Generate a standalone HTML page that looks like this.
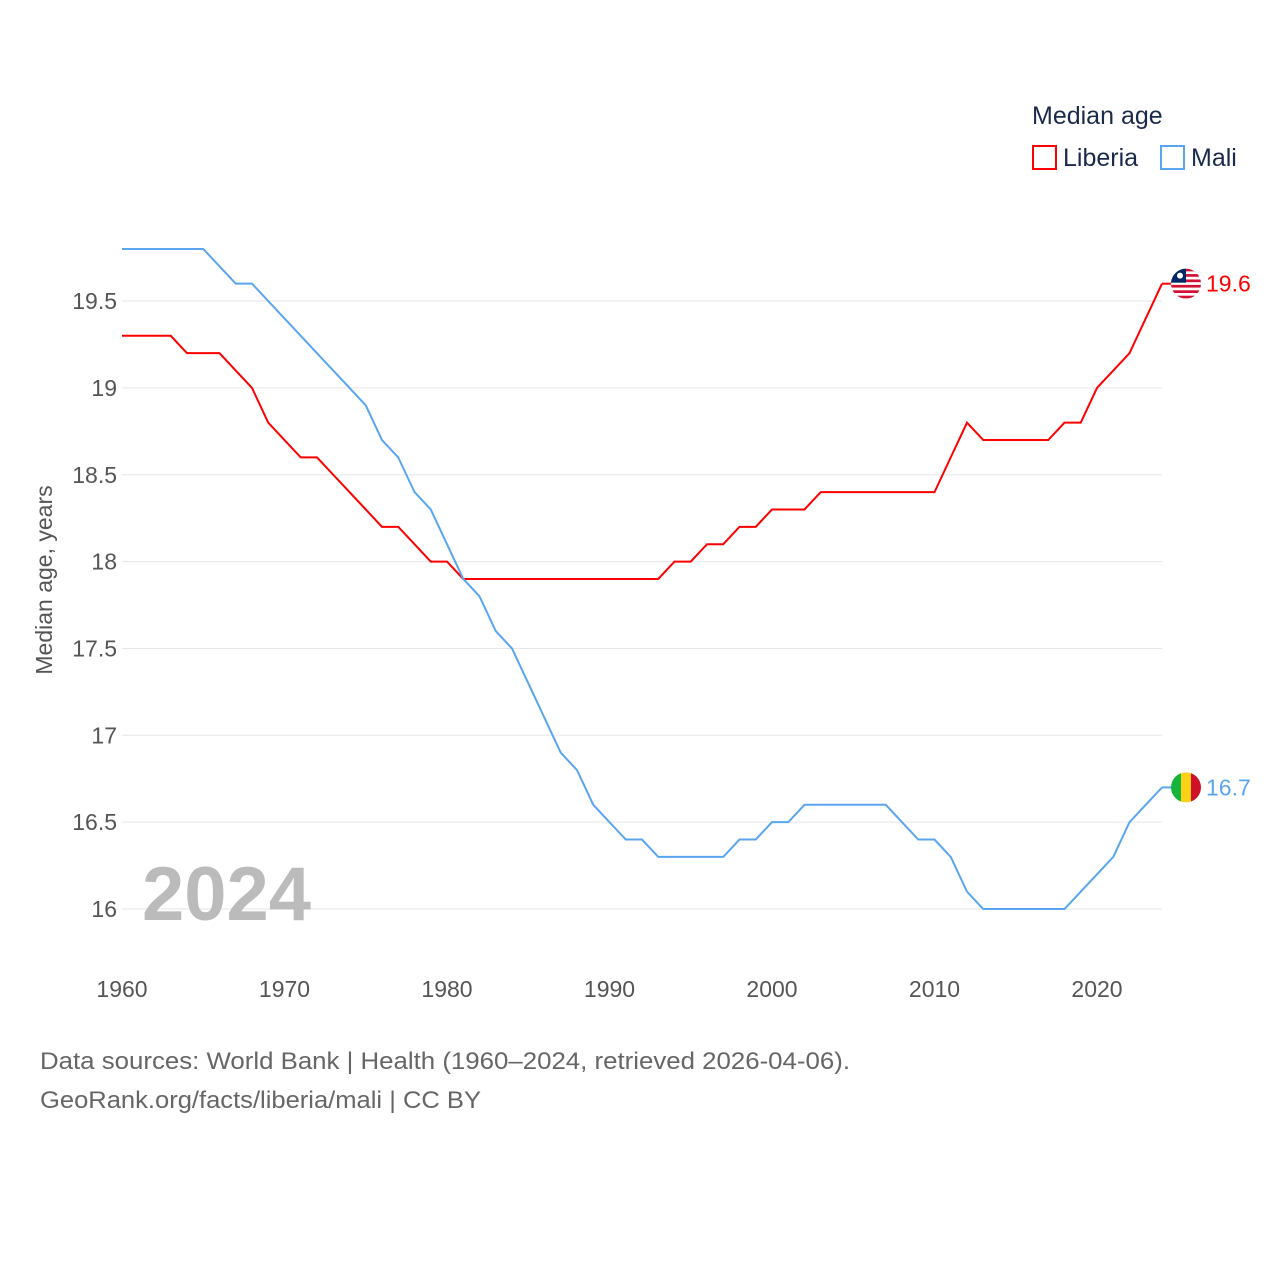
<!DOCTYPE html>
<html><head><meta charset="utf-8"><style>
body{margin:0;background:#fff;font-family:"Liberation Sans",sans-serif;}
svg{display:block}
</style></head><body>
<svg width="1280" height="1280" id="chart">
<g id="grid"></g>
<g id="lines"></g>
<text x="142" y="920" font-size="76" font-weight="bold" fill="#bbb">2024</text>
<text transform="translate(52,580) rotate(-90)" text-anchor="middle" font-size="23" fill="#555">Median age, years</text>
<g>
<text x="1032" y="124" font-size="25" fill="#1a2a4a">Median age</text>
<rect x="1033" y="146" width="23" height="23" fill="none" stroke="#f00" stroke-width="2"/>
<text x="1063" y="166" font-size="25" fill="#1a2a4a">Liberia</text>
<rect x="1161" y="146" width="23" height="23" fill="none" stroke="#5aa5ef" stroke-width="2"/>
<text x="1191" y="166" font-size="25" fill="#1a2a4a">Mali</text>
</g>
<text x="40" y="1069" font-size="24" fill="#666" textLength="810" lengthAdjust="spacingAndGlyphs">Data sources: World Bank | Health (1960–2024, retrieved 2026-04-06).</text>
<text x="40" y="1108" font-size="24" fill="#666" textLength="441" lengthAdjust="spacingAndGlyphs">GeoRank.org/facts/liberia/mali | CC BY</text>
</svg>
<script>
const years=[];for(let y=1960;y<=2024;y++)years.push(y);
const liberia=[19.3,19.3,19.3,19.3,19.2,19.2,19.2,19.1,19.0,18.8,18.7,18.6,18.6,18.5,18.4,18.3,18.2,18.2,18.1,18.0,18.0,17.9,17.9,17.9,17.9,17.9,17.9,17.9,17.9,17.9,17.9,17.9,17.9,17.9,18.0,18.0,18.1,18.1,18.2,18.2,18.3,18.3,18.3,18.4,18.4,18.4,18.4,18.4,18.4,18.4,18.4,18.6,18.8,18.7,18.7,18.7,18.7,18.7,18.8,18.8,19.0,19.1,19.2,19.4,19.6];
const mali=[19.8,19.8,19.8,19.8,19.8,19.8,19.7,19.6,19.6,19.5,19.4,19.3,19.2,19.1,19.0,18.9,18.7,18.6,18.4,18.3,18.1,17.9,17.8,17.6,17.5,17.3,17.1,16.9,16.8,16.6,16.5,16.4,16.4,16.3,16.3,16.3,16.3,16.3,16.4,16.4,16.5,16.5,16.6,16.6,16.6,16.6,16.6,16.6,16.5,16.4,16.4,16.3,16.1,16.0,16.0,16.0,16.0,16.0,16.0,16.1,16.2,16.3,16.5,16.6,16.7];
const yTicks=[16,16.5,17,17.5,18,18.5,19,19.5];
const yTickLabels=["16","16.5","17","17.5","18","18.5","19","19.5"];
const xTicks=[1960,1970,1980,1990,2000,2010,2020];
const NS="http://www.w3.org/2000/svg";
const X=y=>122+(y-1960)*16.25;
const Y=v=>909-(v-16)*173.7;
const grid=document.getElementById('grid'),lines=document.getElementById('lines');
function mk(t,a,p){const e=document.createElementNS(NS,t);for(const k in a)e.setAttribute(k,a[k]);p.appendChild(e);return e;}
yTicks.forEach((v,i)=>{
 const l=mk('line',{x1:122,x2:1162,y1:Y(v),y2:Y(v),stroke:'#e6e6e6','stroke-width':1},grid);
 
 
 const t=mk('text',{x:117,y:Y(v)+8,'text-anchor':'end','font-size':23,fill:'#555'},grid);
 t.textContent=yTickLabels[i];
 
 
});
xTicks.forEach(v=>{
 const t=mk('text',{x:X(v),y:997,'text-anchor':'middle','font-size':23,fill:'#555'},grid);
 t.textContent=v;
 
 
});
function series(vals,color,name){
 const d=vals.map((v,i)=>(i?'L':'M')+X(years[i])+','+Y(v)).join('');
 const p=mk('path',{d:d,fill:'none',stroke:color,'stroke-width':2},lines);
 
 
 const last=vals[vals.length-1],ly=Y(last);
 mk('line',{x1:X(2024),x2:1176,y1:ly,y2:ly,stroke:color,'stroke-width':2},lines);
 const t=mk('text',{x:1206,y:ly+8,'font-size':23,fill:color},lines);
 t.textContent=last.toFixed(1);
 
 
 return ly;
}
const ly1=series(liberia,'#ff0000','liberia');
const ly2=series(mali,'#5aa5ef','mali');
const g1=mk('g',{},lines);


const cp1=mk('clipPath',{id:'c1'},g1);
mk('circle',{cx:1186,cy:ly1,r:15},cp1);
const gg=mk('g',{'clip-path':'url(#c1)'},g1);
mk('rect',{x:1171,y:ly1-15,width:30,height:30,fill:'#fff'},gg);
for(let i=0;i<6;i++)mk('rect',{x:1171,y:ly1-15+i*5.4,width:30,height:2.7,fill:'#d21034'},gg);
mk('rect',{x:1171,y:ly1-15,width:15,height:14,fill:'#002868'},gg);
mk('circle',{cx:1180,cy:ly1-8,r:3,fill:'#fff'},gg);
const g2=mk('g',{},lines);


const cp2=mk('clipPath',{id:'c2'},g2);
mk('circle',{cx:1186,cy:ly2,r:15},cp2);
const g3=mk('g',{'clip-path':'url(#c2)'},g2);
mk('rect',{x:1171,y:ly2-15,width:10,height:30,fill:'#14b53a'},g3);
mk('rect',{x:1181,y:ly2-15,width:10,height:30,fill:'#fcd116'},g3);
mk('rect',{x:1191,y:ly2-15,width:10,height:30,fill:'#ce1126'},g3);
</script>
</body></html>
